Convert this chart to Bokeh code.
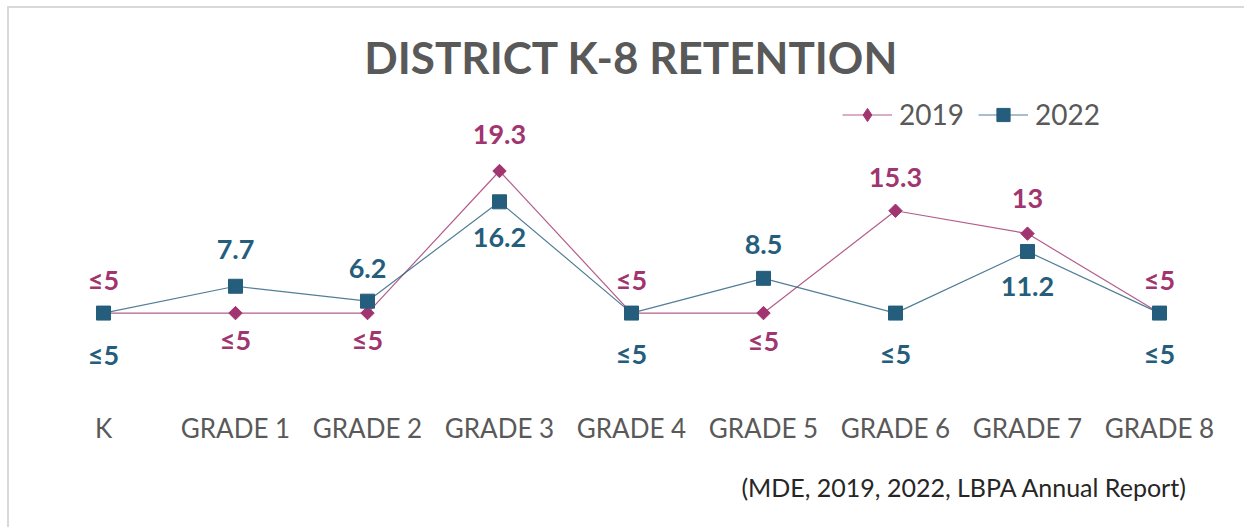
import math
from bokeh.plotting import figure
from bokeh.models import FactorRange, Range1d, Legend, LegendItem, Title
from bokeh.core.properties import value
from bokeh.embed import file_html
from bokeh.resources import INLINE

# ---- data ----
grades = ["K", "GRADE 1", "GRADE 2", "GRADE 3", "GRADE 4",
          "GRADE 5", "GRADE 6", "GRADE 7", "GRADE 8"]
values_2019 = [5, 5, 5, 19.3, 5, 5, 15.3, 13, 5]
labels_2019 = ["≤5", "≤5", "≤5", "19.3", "≤5", "≤5", "15.3", "13", "≤5"]
values_2022 = [5, 7.7, 6.2, 16.2, 5, 8.5, 5, 11.2, 5]
labels_2022 = ["≤5", "7.7", "6.2", "16.2", "≤5", "8.5", "≤5", "11.2", "≤5"]

# ---- label placement (screen px, positive = down) ----
offset_2019 = [-34, 26, 26, -37, -34, 27, -33, -35, -34]
offset_2022 = [41, -37, -33, 36, 40, -34, 40, 35, 40]

C2019 = "#A1356F"
C2022 = "#255E7D"
GRAY = "#595959"
FONT = "Lato"

p = figure(x_range=FactorRange(*grades), y_range=Range1d(-4.1, 26.9),
           width=1237, height=521, output_backend="svg", toolbar_location=None,
           y_axis_location=None, min_border_left=28, min_border_right=21,
           min_border_top=87, min_border_bottom=124, outline_line_color=None)
p.styles = {"border-top": "2px solid #d9d9d9", "border-left": "2px solid #d9d9d9",
            "margin-left": "7px", "margin-top": "6px"}
p.xgrid.visible = False
p.ygrid.visible = False

ax = p.xaxis[0]
ax.axis_line_color = None
ax.major_tick_line_color = None
ax.minor_tick_line_color = None
ax.major_label_text_font = FONT
ax.major_label_text_font_size = "26px"
ax.major_label_text_color = GRAY
ax.major_label_standoff = 2

l1 = p.line(grades, values_2019, line_color=C2019, line_width=1.2, line_alpha=0.8)
l2 = p.line(grades, values_2022, line_color=C2022, line_width=1.2, line_alpha=0.8)
s1 = p.scatter(grades, values_2019, marker="square", angle=math.pi / 4,
               size=9.5, color=C2019)
s2 = p.scatter(grades, values_2022, marker="square", size=14, color=C2022)
# diamond glyph used for the legend entry (legend glyphs ignore rotation)
s1_key = p.scatter(grades, values_2019, marker="diamond", size=0, color=C2019)

p.text(grades, values_2019, text=labels_2019, y_offset=offset_2019,
       text_align="center", text_baseline="middle", text_color=C2019,
       text_font=value(FONT), text_font_size="27px", text_font_style="bold")
p.text(grades, values_2022, text=labels_2022, y_offset=offset_2022,
       text_align="center", text_baseline="middle", text_color=C2022,
       text_font=value(FONT), text_font_size="27px", text_font_style="bold")

legend = Legend(items=[LegendItem(label="2019", renderers=[l1, s1_key]),
                       LegendItem(label="2022", renderers=[l2, s2])],
                orientation="horizontal", location=(805, 272),
                glyph_width=50, glyph_height=33, label_standoff=7, spacing=14,
                padding=0, margin=0, border_line_color=None,
                background_fill_alpha=0, label_text_font=FONT,
                label_text_font_size="28px", label_text_color=GRAY)
p.add_layout(legend)

p.title.text = "DISTRICT K-8 RETENTION"
p.title.align = "center"
p.title.text_font = FONT
p.title.text_font_size = "44px"
p.title.text_font_style = "bold"
p.title.text_color = GRAY
p.title.standoff = 26

p.add_layout(Title(text="(MDE, 2019, 2022, LBPA Annual Report)", align="right",
                   vertical_align="top",
                   text_font=FONT, text_font_size="25px", text_font_style="normal",
                   text_color="#262626", offset=38, standoff=51), "below")

open("out.html", "w").write(file_html(p, INLINE))
